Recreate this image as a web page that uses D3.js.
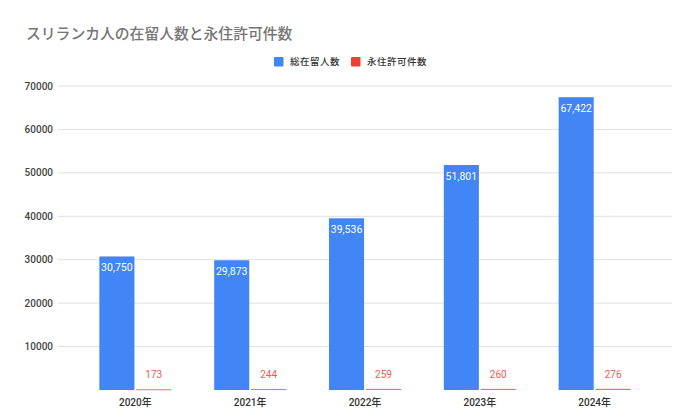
<!DOCTYPE html>
<html>
<head>
<meta charset="utf-8">
<script src="https://cdn.jsdelivr.net/npm/d3@7"></script>
<style>
  body { margin: 0; background: #fff; }
  svg { font-family: Roboto, "Noto Sans CJK JP", sans-serif; }
</style>
</head>
<body>
<svg id="chart" width="696" height="420"></svg>
<script>
// data
var years = ["2020年", "2021年", "2022年", "2023年", "2024年"];
var seriesNames = ["総在留人数", "永住許可件数"];
var residents = [30750, 29873, 39536, 51801, 67422];
var permits = [173, 244, 259, 260, 276];
var yTicks = [10000, 20000, 30000, 40000, 50000, 60000, 70000];
var colors = ["#4285f4", "#ea4335"];

var svg = d3.select("#chart");

// title
svg.append("text")
  .attr("x", 26).attr("y", 39)
  .attr("font-size", 14.8)
  .attr("font-weight", 500)
  .attr("fill", "#757575")
  .text("スリランカ人の在留人数と永住許可件数");

// scales
var y = d3.scaleLinear().domain([0, 70000]).range([390, 86]);
var x = d3.scaleBand().domain(years).range([78, 652]).paddingInner(0.373).paddingOuter(0.186);
var xs = d3.scaleBand().domain(seriesNames).range([0, x.bandwidth()]).paddingInner(0.05);

// grid
svg.append("g").selectAll("line")
  .data(yTicks)
  .enter().append("line")
  .attr("x1", 58).attr("x2", 672)
  .attr("y1", function(d){ return y(d); })
  .attr("y2", function(d){ return y(d); })
  .attr("stroke", "#e0e0e0")
  .attr("stroke-width", 1);

// y labels
svg.append("g").selectAll("text")
  .data(yTicks)
  .enter().append("text")
  .attr("x", 53)
  .attr("y", function(d){ return y(d) + 3.5; })
  .attr("text-anchor", "end")
  .attr("font-size", 10)
  .attr("font-weight", 500)
  .attr("fill", "#444")
  .text(function(d){ return d; });

// legend
var legend = svg.append("g");
var lx = [274, 351];
seriesNames.forEach(function(n, i){
  legend.append("rect")
    .attr("x", lx[i]).attr("y", 57)
    .attr("width", 9.5).attr("height", 9.5)
    .attr("rx", 1)
    .attr("fill", colors[i]);
  legend.append("text")
    .attr("x", lx[i] + 16).attr("y", 65)
    .attr("font-size", 9.5)
    .attr("font-weight", 500)
    .attr("letter-spacing", 0.5)
    .attr("fill", "#333")
    .text(n);
});

var rows = years.map(function(yr, i){
  return { year: yr, vals: [residents[i], permits[i]] };
});

var groups = svg.append("g").selectAll("g")
  .data(rows)
  .enter().append("g")
  .attr("transform", function(d){ return "translate(" + x(d.year) + ",0)"; });

groups.selectAll("rect")
  .data(function(d){ return d.vals.map(function(v, i){ return { v: v, s: seriesNames[i], i: i }; }); })
  .enter().append("rect")
  .attr("x", function(d){ return xs(d.s); })
  .attr("width", xs.bandwidth())
  .attr("y", function(d){ return y(d.v); })
  .attr("height", function(d){ return Math.max(1, y(0) - y(d.v)); })
  .attr("fill", function(d){ return colors[d.i]; })
  .attr("opacity", function(d){ return d.i === 1 ? 0.75 : 1; });

// value labels
var fmt = d3.format(",");
groups.each(function(d){
  var g = d3.select(this);
  g.append("text")
    .attr("x", xs(seriesNames[0]) + xs.bandwidth() / 2)
    .attr("y", y(d.vals[0]) + 15)
    .attr("text-anchor", "middle")
    .attr("font-size", 10.5)
    .attr("fill", "#fff")
    .text(fmt(d.vals[0]));
  g.append("text")
    .attr("x", xs(seriesNames[1]) + xs.bandwidth() / 2)
    .attr("y", 378)
    .attr("text-anchor", "middle")
    .attr("font-size", 10)
    .attr("fill", "#ee5a4f")
    .text(fmt(d.vals[1]));
});

// x labels
svg.append("g").selectAll("text")
  .data(years)
  .enter().append("text")
  .attr("x", function(d){ return x(d) + x.bandwidth() / 2; })
  .attr("y", 406)
  .attr("text-anchor", "middle")
  .attr("font-size", 10)
  .attr("font-weight", 500)
  .attr("fill", "#333")
  .text(function(d){ return d; });
</script>
</body>
</html>
